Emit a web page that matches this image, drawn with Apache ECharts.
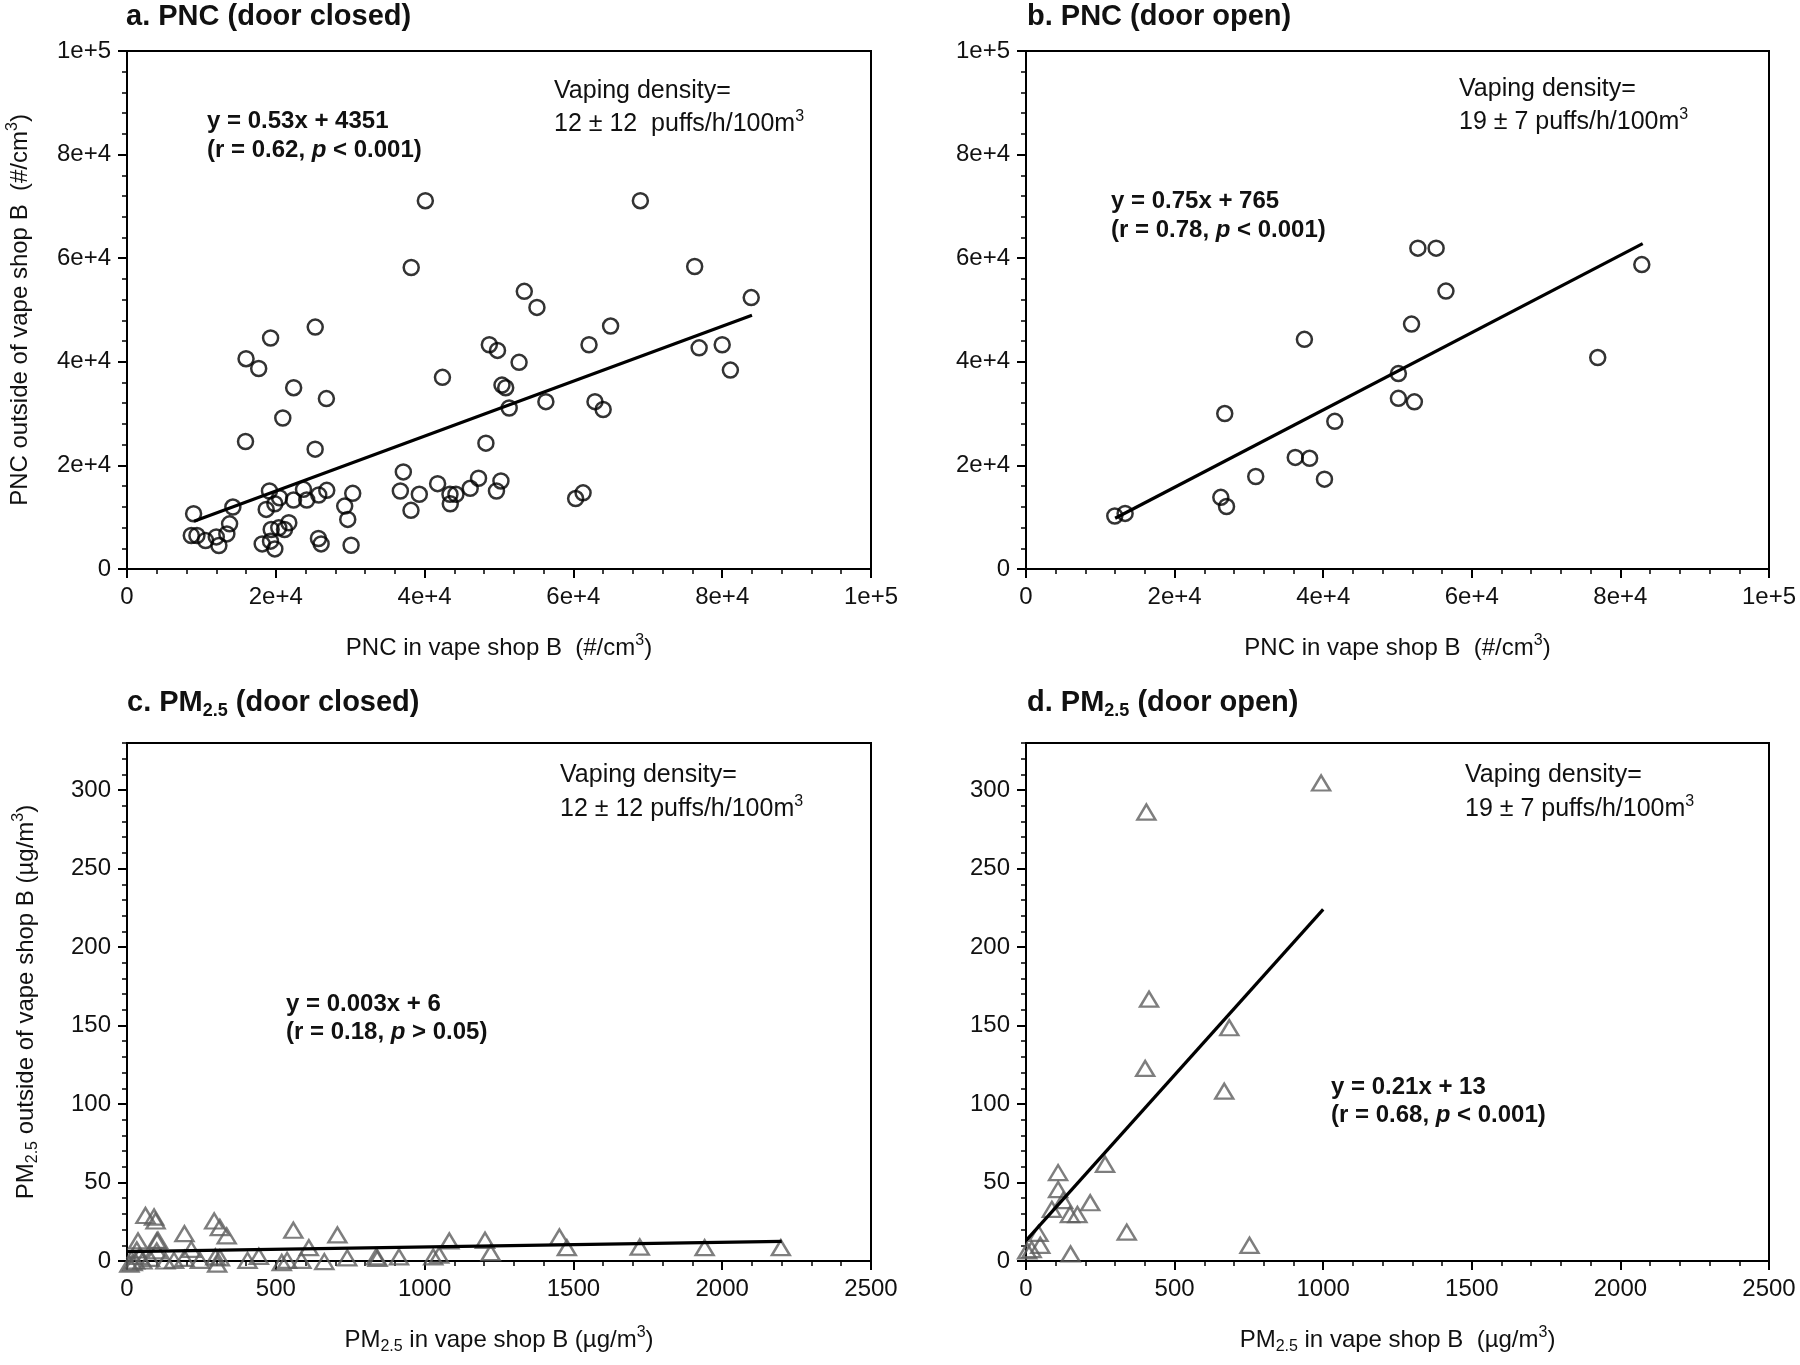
<!DOCTYPE html>
<html>
<head>
<meta charset="utf-8">
<script src="https://cdn.jsdelivr.net/npm/echarts@6/dist/echarts.min.js"></script>
<style>
    html, body { margin: 0; padding: 0; background: #fff; }
    #main { width: 1800px; height: 1365px; }
</style>
</head>
<body>
<div id="main"></div>
<script>
const FONT = "'Liberation Sans', Arial, sans-serif";
const INK = '#111';

// tick labels
const pncTickLabels = ['0', '2e+4', '4e+4', '6e+4', '8e+4', '1e+5'];
const pmXTickLabels = ['0', '500', '1000', '1500', '2000', '2500'];
const pmYTickLabels = ['0', '50', '100', '150', '200', '250', '300'];

// a. PNC door closed  [inside, outside]
const pncClosedPoints = [
    [8950, 10660], [8640, 6470], [9400, 6470], [10560, 5500], [12000, 6200], [12350, 4530],
    [13420, 6780], [13790, 8720], [14230, 11960], [15930, 24610], [18170, 4850], [18710, 11510],
    [19150, 15060], [19380, 7630], [19290, 5370], [19870, 3880], [19870, 12600], [20500, 13760],
    [20400, 7950], [21170, 7630], [21750, 8920], [20940, 29150], [22380, 13310], [23720, 15380],
    [24160, 13310], [25290, 23140], [25770, 14280], [25730, 5890], [26090, 4850], [26850, 15190],
    [29260, 12150], [29670, 9570], [30340, 14610], [30120, 4590], [36740, 15060], [37140, 18740],
    [38170, 11320], [39290, 14420], [41750, 16470], [43410, 14420], [44210, 14420], [43450, 12600],
    [46130, 15580], [47250, 17520], [48240, 24300], [49660, 15060], [50260, 17000], [51370, 31080],
    [16000, 40600], [17700, 38700], [19300, 44600], [22400, 35000], [25300, 46700], [26800, 32900],
    [38200, 58200], [40100, 71100], [42400, 37000], [48700, 43300], [49800, 42200], [50400, 35500],
    [50900, 35000], [52700, 39900], [53400, 53600], [55100, 50500], [56300, 32300], [60300, 13600],
    [61300, 14700], [62100, 43300], [62900, 32300], [64000, 30800], [65000, 46900], [69000, 71100],
    [76300, 58400], [76900, 42700], [80000, 43300], [81100, 38400], [83900, 52400]
];
const pncClosedFit = [[9000, 9200], [84000, 49000]];

// b. PNC door open
const pncOpenPoints = [
    [11950, 10230], [13340, 10730], [26220, 13830], [26990, 12070], [26750, 30010], [30920, 17850],
    [36240, 21540], [38170, 21370], [37470, 44340], [40170, 17350], [41560, 28500], [50120, 37720],
    [50120, 32940], [52270, 32270], [51890, 47280], [52740, 61940], [55200, 61940], [56520, 53650],
    [76950, 40820], [82880, 58760]
];
const pncOpenFit = [[12000, 9800], [83000, 62800]];

// c. PM2.5 door closed
const pmClosedPoints = [
    [62, 29], [91, 28], [96, 25.5], [37, 12.8], [104, 13.2], [100, 12.8], [33, 7], [42, 3],
    [27, 0], [8, -2], [19, -1], [52, 0], [77, 1.7], [100, 6.4], [129, 0], [158, 0.4],
    [193, 17.4], [193, 1.7], [216, 7.4], [245, 0.4], [293, 25.5], [312, 21.3], [335, 16],
    [297, 2.6], [303, -2], [312, 2], [405, 0.4], [443, 3], [520, -1], [538, 0.4], [559, 19.6],
    [586, 0.4], [611, 8.5], [663, -0.4], [707, 16.6], [740, 2], [837, 2.6], [842, 1.7],
    [914, 2.6], [1029, 2.6], [1049, 3.8], [1083, 12.8], [1203, 13.2], [1222, 5.3], [1453, 15.3],
    [1478, 8.5], [1723, 8.9], [1941, 8.5], [2197, 8.5]
];
const pmClosedFit = [[0, 6], [2200, 12.5]];

// d. PM2.5 door open
const pmOpenPoints = [
    [993, 304.5], [405, 286], [414, 166.8], [684, 148.6], [401, 122.7], [667, 108.2],
    [108, 56.3], [266, 61.6], [108, 45.5], [125, 38.5], [216, 37.1], [87, 32.9], [148, 29.6],
    [173, 29.6], [339, 18.4], [42, 17.6], [48, 10], [752, 10], [19, 7.3], [4, 6.4], [150, 4.5]
];
const pmOpenFit = [[0, 13], [1000, 224]];

const RICH = {
    r: {fontSize: 25, fontFamily: FONT, fill: INK, lineHeight: 30},
    b: {fontSize: 24, fontFamily: FONT, fontWeight: 'bold', fill: INK, lineHeight: 30},
    bi: {fontSize: 24, fontFamily: FONT, fontWeight: 'bold', fontStyle: 'italic', fill: INK, lineHeight: 30},
    sup: {fontSize: 16, fontFamily: FONT, fill: INK, verticalAlign: 'top', lineHeight: 16},
    t: {fontSize: 29, fontFamily: FONT, fontWeight: 'bold', fill: INK, lineHeight: 36},
    tsub: {fontSize: 18, fontFamily: FONT, fontWeight: 'bold', fill: INK, verticalAlign: 'bottom', lineHeight: 18}
};

const txt = function (left, top, text) {
    return {type: 'text', left: left, top: top, style: {text: text, rich: RICH, fill: INK}};
};

const AXIS_RICH = {
    n: {fontSize: 24, fontFamily: FONT, color: INK, lineHeight: 30},
    sup: {fontSize: 16, fontFamily: FONT, color: INK, verticalAlign: 'top', lineHeight: 16},
    sub: {fontSize: 16, fontFamily: FONT, color: INK, verticalAlign: 'bottom', lineHeight: 16}
};

const baseAxis = function (grid, min, max, interval, labels, extra) {
    return Object.assign({
        type: 'value',
        gridIndex: grid,
        min: min,
        max: max,
        interval: interval,
        splitLine: {show: false},
        axisLine: {show: true, onZero: false, lineStyle: {color: '#000', width: 2}},
        axisTick: {show: true, inside: false, length: 9, lineStyle: {color: '#000', width: 2}},
        minorTick: {show: true, splitNumber: 5, length: 5, lineStyle: {color: '#000', width: 1.5}},
        axisLabel: {
            fontSize: 24, fontFamily: FONT, color: INK, margin: 16, showMaxLabel: true,
            formatter: function (v) {
                const i = Math.round((v - min) / interval);
                return Math.abs(min + i * interval - v) < 1e-6 && labels[i] !== undefined ? labels[i] : '';
            }
        },
        nameLocation: 'middle'
    }, extra || {});
};

const minorYAxis = function (grid) {
    return {
        type: 'value', gridIndex: grid, min: 0, max: 330, interval: 10, position: 'left',
        splitLine: {show: false},
        axisLine: {show: false},
        axisTick: {show: true, inside: false, length: 5, lineStyle: {color: '#000', width: 1.5}},
        axisLabel: {show: false}
    };
};

const grids = [
    {left: 127, top: 51, width: 744, height: 518},
    {left: 1026, top: 51, width: 743, height: 518},
    {left: 127, top: 743, width: 744, height: 518},
    {left: 1026, top: 743, width: 743, height: 518}
].map(g => Object.assign({show: true, borderColor: '#000', borderWidth: 2, backgroundColor: '#fff'}, g));

const xNamePNC = '{n|PNC in vape shop B  (#/cm}{sup|3}{n|)}';

const xAxes = [
    baseAxis(0, 0, 100000, 20000, pncTickLabels, {name: xNamePNC, nameGap: 64, nameTextStyle: {rich: AXIS_RICH}}),
    baseAxis(1, 0, 100000, 20000, pncTickLabels, {name: xNamePNC, nameGap: 64, nameTextStyle: {rich: AXIS_RICH}}),
    baseAxis(2, 0, 2500, 500, pmXTickLabels, {
        name: '{n|PM}{sub|2.5}{n| in vape shop B (µg/m}{sup|3}{n|)}', nameGap: 64, nameTextStyle: {rich: AXIS_RICH}
    }),
    baseAxis(3, 0, 2500, 500, pmXTickLabels, {
        name: '{n|PM}{sub|2.5}{n| in vape shop B  (µg/m}{sup|3}{n|)}', nameGap: 64, nameTextStyle: {rich: AXIS_RICH}
    })
];

const yAxes = [
    baseAxis(0, 0, 100000, 20000, pncTickLabels, {
        name: '{n|PNC outside of vape shop B  (#/cm}{sup|3}{n|)}', nameGap: 92, nameRotate: 90,
        nameTextStyle: {rich: AXIS_RICH}
    }),
    baseAxis(1, 0, 100000, 20000, pncTickLabels),
    baseAxis(2, 0, 330, 50, pmYTickLabels, {
        minorTick: {show: false},
        name: '{n|PM}{sub|2.5}{n| outside of vape shop B (µg/m}{sup|3}{n|)}', nameGap: 86, nameRotate: 90,
        nameTextStyle: {rich: AXIS_RICH}
    }),
    minorYAxis(2),
    baseAxis(3, 0, 330, 50, pmYTickLabels, {minorTick: {show: false}}),
    minorYAxis(3)
];
yAxes[2].axisLabel.showMaxLabel = false;
yAxes[4].axisLabel.showMaxLabel = false;

const circleStyle = {color: 'rgba(0,0,0,0)', borderColor: '#000', borderWidth: 2.5};
const triStyle = {color: 'rgba(0,0,0,0)', borderColor: '#5e5e5e', borderWidth: 2.4};
const fitStyle = {color: '#000', width: 3.2};

const scatter = function (xi, yi, data, symbol, size, style) {
    return {
        type: 'scatter', xAxisIndex: xi, yAxisIndex: yi, data: data, symbol: symbol,
        symbolSize: size, itemStyle: style, clip: false, z: 3
    };
};
const fit = function (xi, yi, data) {
    return {
        type: 'line', xAxisIndex: xi, yAxisIndex: yi, data: data, showSymbol: false,
        lineStyle: fitStyle, itemStyle: {color: '#000'}, z: 4
    };
};

const chart = echarts.init(document.getElementById('main'), null, {renderer: 'canvas'});
chart.setOption({
    backgroundColor: '#fff',
    animation: false,
    grid: grids,
    xAxis: xAxes,
    yAxis: yAxes,
    series: [
        scatter(0, 0, pncClosedPoints, 'circle', 15, circleStyle),
        fit(0, 0, pncClosedFit),
        scatter(1, 1, pncOpenPoints, 'circle', 15, circleStyle),
        fit(1, 1, pncOpenFit),
        scatter(2, 2, pmClosedPoints, 'triangle', [18, 15], triStyle),
        fit(2, 2, pmClosedFit),
        scatter(3, 4, pmOpenPoints, 'triangle', [18, 15], triStyle),
        fit(3, 4, pmOpenFit)
    ],
    graphic: [
        // panel titles
        txt(126, 2, '{t|a. PNC (door closed)}'),
        txt(1027, 2, '{t|b. PNC (door open)}'),
        txt(127, 688, '{t|c. PM}{tsub|2.5}{t| (door closed)}'),
        txt(1027, 688, '{t|d. PM}{tsub|2.5}{t| (door open)}'),
        // a
        txt(554, 79, '{r|Vaping density=}'),
        txt(554, 109, '{r|12 ± 12  puffs/h/100m}{sup|3}'),
        txt(207, 109, '{b|y = 0.53x + 4351}'),
        txt(207, 138, '{b|(r = 0.62, }{bi|p}{b| < 0.001)}'),
        // b
        txt(1459, 77, '{r|Vaping density=}'),
        txt(1459, 107, '{r|19 ± 7 puffs/h/100m}{sup|3}'),
        txt(1111, 189, '{b|y = 0.75x + 765}'),
        txt(1111, 218, '{b|(r = 0.78, }{bi|p}{b| < 0.001)}'),
        // c
        txt(560, 763, '{r|Vaping density=}'),
        txt(560, 794, '{r|12 ± 12 puffs/h/100m}{sup|3}'),
        txt(286, 992, '{b|y = 0.003x + 6}'),
        txt(286, 1020, '{b|(r = 0.18, }{bi|p}{b| > 0.05)}'),
        // d
        txt(1465, 763, '{r|Vaping density=}'),
        txt(1465, 794, '{r|19 ± 7 puffs/h/100m}{sup|3}'),
        txt(1331, 1075, '{b|y = 0.21x + 13}'),
        txt(1331, 1103, '{b|(r = 0.68, }{bi|p}{b| < 0.001)}')
    ]
});
</script>
</body>
</html>
